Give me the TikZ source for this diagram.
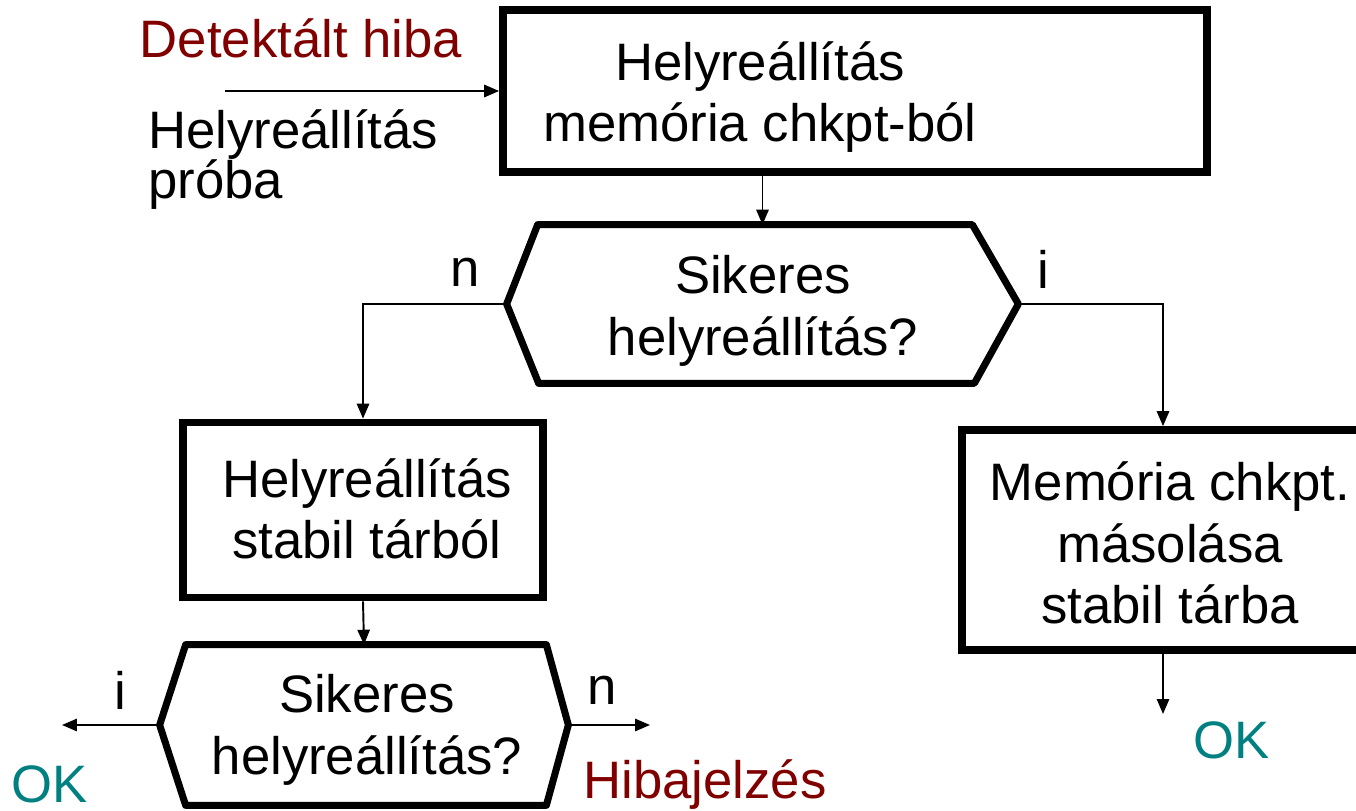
\documentclass[tikz,border=0pt]{standalone}
\usepackage{fontspec}
\setmainfont{Liberation Sans}
\usetikzlibrary{arrows.meta,calc}

\definecolor{hibared}{RGB}{128,0,0}
\definecolor{okteal}{RGB}{0,128,128}
\newdimen\pxlen \pxlen=0.02cm

\tikzset{
  every node/.style={font=\fontsize{30}{35}\selectfont},
  box/.style={draw, line width=4.4pt, inner sep=0pt},
  hexa/.style={inner sep=0pt},
  hexline/.style={line width=4pt, line join=round},
  arr/.style={line width=1.1pt, -{Triangle[length=8.5pt,width=7pt]}},
  txt/.style={align=center, inner sep=0pt}
}

\begin{document}
\begin{tikzpicture}[x=0.02cm, y=-0.02cm]
  \useasboundingbox (0,0) rectangle (1356,811);

  % Bemenet
  \node[txt, text=hibared] (det) at (301,38) {Detektált hiba};
  \node[anchor=west, align=left, inner sep=0pt, font=\fontsize{30}{28.5}\selectfont] (probe) at (148,160) {Helyreállítás\\próba};
  \coordinate (start) at (225,91);

  % Dobozok
  \node[box, minimum width=704\pxlen, minimum height=162\pxlen] (recT) at (855,91) {};
  \node[txt] (recTtxt) at (760,97) {Helyreállítás\\memória chkpt-ból};
  \node[box, minimum width=360\pxlen, minimum height=175\pxlen] (recL) at (363,510) {};
  \node[txt] (recLtxt) at (367,509) {Helyreállítás\\stabil tárból};
  \node[box, minimum width=402\pxlen, minimum height=220\pxlen] (recR) at (1163,540) {};
  \node[txt] (recRtxt) at (1170,543) {Memória chkpt.\\másolása\\stabil tárba};

  % Dontesek
  \node[hexa, minimum width=511\pxlen, minimum height=158\pxlen] (q1) at (762.5,304) {};
  \node[txt] (q1txt) at (763,311) {Sikeres\\helyreállítás?};
  \draw[hexline] (q1.west) -- ($(q1.north west)+(31,0)$) -- ($(q1.north east)+(-46,0)$)
    -- (q1.east) -- ($(q1.south east)+(-44,0)$) -- ($(q1.south west)+(32,0)$) -- cycle;

  \node[hexa, minimum width=408\pxlen, minimum height=160\pxlen] (q2) at (364,725) {};
  \node[txt] (q2txt) at (367,730) {Sikeres\\helyreállítás?};
  \draw[hexline] (q2.west) -- ($(q2.north west)+(26,0)$) -- ($(q2.north east)+(-22,0)$)
    -- (q2.east) -- ($(q2.south east)+(-22,0)$) -- ($(q2.south west)+(26,0)$) -- cycle;

  % Kimenetek
  \coordinate (okLend) at (62,725);
  \coordinate (hibaend) at (650,725);
  \coordinate (okRend) at (1163,714);
  \node[txt, text=okteal] (okL) at (50,784) {OK};
  \node[txt, text=hibared] (hiba) at (705,785) {Hibajelzés};
  \node[txt, text=okteal] (okR) at (1232,740) {OK};

  % Cimkek
  \node[txt] (n1) at (465,272) {n};
  \node[txt] (i1) at (1043,269) {i};
  \node[txt] (i2) at (120,690) {i};
  \node[txt] (n2) at (602,690) {n};

  % Nyilak
  \draw[arr] (start) -- (recT.west |- start);
  \draw[arr] (q1.north |- recT.south) -- (q1.north);
  \draw[arr] (q1.west) -| (recL.north);
  \draw[arr] (q1.east) -| (recR.north);
  \draw[arr] (recL.south) -- (q2.north);
  \draw[arr] (q2.west) -- (okLend);
  \draw[arr] (q2.east) -- (hibaend);
  \draw[arr] (recR.south) -- (okRend);
\end{tikzpicture}
\end{document}
